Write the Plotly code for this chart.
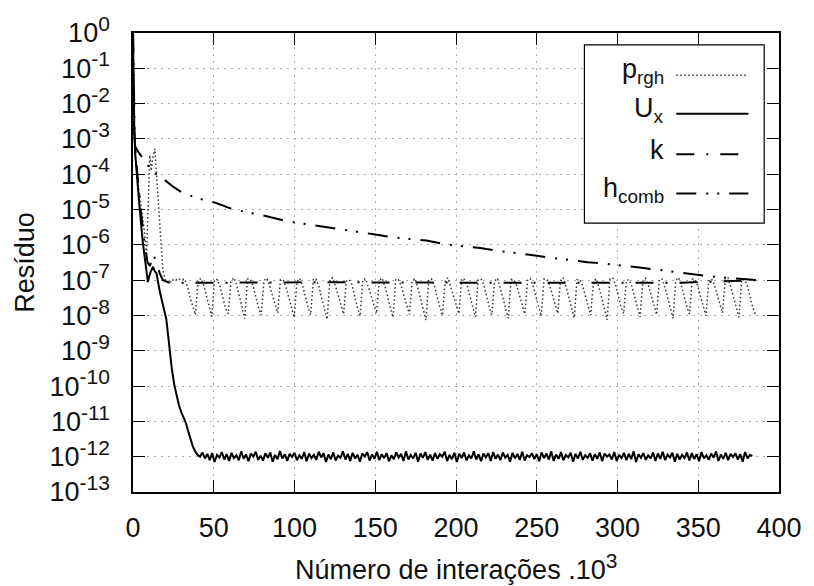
import numpy as np
import plotly.graph_objects as go

# ---------------- data (x in 10^3 iterations, y stored as log10 of residual) -------------
# U_x : initial decay
ux_x_start = [0, 0.3, 0.8, 1.5, 2.5, 4, 6, 8, 9.2, 10, 11, 12.4, 13.5, 14.5, 15.5, 16.5,
              18, 19.5, 20.6, 21.6, 22.6, 24, 25.7, 27, 28.5, 30, 31.5, 32.8, 34, 35.5,
              37, 38.5, 40]
ux_log_start = [0, -1.5, -2.7, -3.5, -4.1, -4.9, -5.9, -6.7, -7.05, -6.9, -6.75, -6.62, -6.75,
                -6.8, -7.1, -7.3, -7.6, -7.9, -8.1, -8.5, -9.0, -9.5, -10.0, -10.3, -10.55,
                -10.75, -10.92, -11.05, -11.25, -11.5, -11.7, -11.85, -11.95]
# U_x : noise floor, sampled every 1.5 (x10^3) from 41.5
ux_floor_x0 = 41.5
ux_floor_dx = 1.5
ux_log_floor = [
    -12.00, -11.88, -12.05, -11.92, -12.10, -11.90, -12.15, -11.95, -12.02, -11.87,
    -12.08, -11.93, -12.12, -11.89, -12.04, -11.96, -12.10, -11.85, -12.06, -11.94,
    -12.13, -11.91, -12.00, -11.86, -12.09, -11.97, -12.11, -11.90, -12.03, -11.88,
    -12.14, -11.95, -12.07, -11.84, -12.05, -11.93, -12.12, -11.92, -12.01, -11.89,
    -12.10, -11.96, -12.06, -11.87, -12.13, -11.91, -12.04, -11.95, -12.09, -11.86,
    -12.02, -11.90, -12.15, -11.94, -12.07, -11.88, -12.11, -11.97, -12.03, -11.85,
    -12.08, -11.92, -12.12, -11.89, -12.05, -11.95, -12.14, -11.91, -12.00, -11.87,
    -12.11, -11.94, -12.06, -11.86, -12.10, -11.93, -12.04, -11.90, -12.13, -11.96,
    -12.07, -11.88, -12.02, -11.92, -12.12, -11.85, -12.08, -11.95, -12.05, -11.89,
    -12.14, -11.91, -12.03, -11.87, -12.09, -11.94, -12.11, -11.90, -12.06, -11.93,
    -12.00, -11.86, -12.12, -11.95, -12.07, -11.89, -12.15, -11.92, -12.04, -11.88,
    -12.10, -11.96, -12.05, -11.85, -12.08, -11.93, -12.13, -11.91, -12.02, -11.90,
    -12.12, -11.87, -12.06, -11.94, -12.10, -11.88, -12.03, -11.95, -12.14, -11.89,
    -12.05, -11.92, -12.09, -11.86, -12.11, -11.96, -12.01, -11.90, -12.07, -11.93,
    -12.13, -11.88, -12.04, -11.91, -12.08, -11.85, -12.12, -11.94, -12.06, -11.87,
    -12.10, -11.95, -12.02, -11.89, -12.14, -11.92, -12.05, -11.86, -12.09, -11.96,
    -12.03, -11.90, -12.11, -11.93, -12.06, -11.88, -12.13, -11.91, -12.00, -11.94,
    -12.08, -11.87, -12.12, -11.95, -12.04, -11.89, -12.10, -11.92, -12.07, -11.85,
    -12.15, -11.93, -12.03, -11.90, -12.09, -11.96, -12.05, -11.88, -12.12, -11.91,
    -12.06, -11.86, -12.10, -11.94, -12.02, -11.89, -12.14, -11.92, -12.08, -11.95,
    -12.04, -11.88, -12.11, -11.90, -12.07, -11.93, -12.13, -11.87, -12.05, -11.96,
    -12.09, -11.91, -12.03, -11.85, -12.12, -11.94, -12.06, -11.89, -12.10, -11.92,
    -12.01, -11.90, -12.08, -11.93, -12.14, -11.87, -12.05, -11.95, -11.98,
]

# p_rgh : initial transient
p_x_start = [0, 0.5, 1.5, 3, 5, 7, 8.4, 9.5, 10.4, 11.3, 12, 13.5, 14.5, 15.5, 16.5, 17.5,
             18.5, 20, 22.6, 24, 26, 28, 30]
p_log_start = [0, -2.8, -3.5, -4.2, -4.9, -5.6, -6.3, -5.0, -3.46, -3.9, -3.6, -3.28, -4.0,
               -4.8, -5.5, -6.2, -6.72, -7.0, -7.1, -6.98, -7.02, -6.95, -7.0]
# p_rgh : oscillating part, sampled every 1.7 (x10^3) from 31.8
p_osc_x0 = 31.8
p_osc_dx = 1.7
p_log_osc = [
    -6.96, -7.15, -7.46, -7.76, -7.98, -7.01,
    -6.95, -7.13, -7.42, -7.72, -8.03, -6.98,
    -6.98, -7.18, -7.48, -7.79, -7.95, -7.03,
    -6.93, -7.12, -7.44, -7.74, -8.09, -6.97,
    -6.97, -7.16, -7.47, -7.77, -7.99, -7.02,
    -6.94, -7.14, -7.41, -7.71, -7.93, -6.99,
    -6.99, -7.19, -7.49, -7.80, -8.06, -7.04,
    -6.95, -7.13, -7.45, -7.75, -7.98, -6.96,
    -6.97, -7.17, -7.50, -7.81, -8.11, -7.00,
    -6.93, -7.15, -7.43, -7.73, -7.96, -7.03,
    -6.98, -7.12, -7.46, -7.76, -8.02, -6.98,
    -6.96, -7.18, -7.42, -7.70, -7.94, -7.01,
    -6.94, -7.14, -7.48, -7.78, -8.05, -6.97,
    -6.99, -7.16, -7.44, -7.74, -7.97, -7.02,
    -6.95, -7.20, -7.50, -7.82, -8.13, -6.99,
    -6.97, -7.13, -7.45, -7.75, -8.00, -7.04,
    -6.93, -7.17, -7.41, -7.71, -7.95, -6.96,
    -6.98, -7.15, -7.47, -7.79, -8.04, -7.00,
    -6.96, -7.12, -7.44, -7.74, -7.98, -7.03,
    -6.94, -7.19, -7.49, -7.80, -8.08, -6.98,
    -6.99, -7.14, -7.43, -7.73, -7.96, -7.01,
    -6.95, -7.16, -7.46, -7.77, -8.02, -6.97,
    -6.97, -7.13, -7.42, -7.70, -7.94, -7.02,
    -6.93, -7.18, -7.48, -7.78, -8.07, -6.99,
    -6.98, -7.15, -7.45, -7.75, -7.99, -7.04,
    -6.96, -7.20, -7.51, -7.83, -8.12, -6.96,
    -6.94, -7.12, -7.44, -7.74, -7.95, -7.00,
    -6.99, -7.17, -7.47, -7.78, -8.04, -7.03,
    -6.95, -7.14, -7.43, -7.72, -7.98, -6.98,
    -6.97, -7.19, -7.49, -7.80, -8.08, -7.01,
    -6.93, -7.13, -7.45, -7.75, -7.96, -6.97,
    -6.98, -7.16, -7.46, -7.76, -8.01, -7.02,
    -6.96, -7.12, -7.41, -7.70, -7.93, -6.99,
    -6.94, -7.18, -7.48, -7.79, -8.05, -7.00,
    -6.97, -7.15, -7.45, -7.76, -7.97,
]

# k : flat near 1e-7 (dash-dot)
k_x = [0, 0.5, 1.5, 3, 5, 7, 9, 10.5, 12.4, 14.5, 16.5, 18.5, 22.6, 60, 120, 200, 280, 340, 386]
k_log = [0, -2.5, -3.4, -4.2, -5.1, -5.9, -6.5, -6.6, -6.26, -6.49, -6.8, -7.0, -7.07, -7.07,
         -7.06, -7.07, -7.06, -7.07, -7.0]

# h_comb : slowly decreasing (dash-dot-dot)
h_x = [0, 1.2, 3, 6.3, 10, 14, 19.6, 25, 30.8, 40, 51, 62.4, 82.8, 95, 109, 128.6, 149, 161,
       181.7, 194, 215, 227.5, 249, 261, 281.5, 293.8, 315, 327.4, 347.8, 361, 386]
h_log = [0, -3.2, -3.35, -3.56, -3.8, -3.98, -4.16, -4.36, -4.53, -4.68, -4.81, -5.0, -5.19,
         -5.33, -5.42, -5.56, -5.70, -5.79, -5.88, -5.99, -6.09, -6.18, -6.30, -6.38, -6.49,
         -6.54, -6.65, -6.72, -6.82, -6.91, -7.0]

x_ticks = [0, 50, 100, 150, 200, 250, 300, 350, 400]
y_exponents = [0, -1, -2, -3, -4, -5, -6, -7, -8, -9, -10, -11, -12, -13]
legend_labels = ["p<sub>rgh</sub>", "U<sub>x</sub>", "k", "h<sub>comb</sub>"]

# ---------------- assemble ----------------
ux_x = list(ux_x_start) + list(ux_floor_x0 + ux_floor_dx * np.arange(len(ux_log_floor)))
ux_y = 10.0 ** np.array(list(ux_log_start) + list(ux_log_floor))
p_x = list(p_x_start) + list(p_osc_x0 + p_osc_dx * np.arange(len(p_log_osc)))
p_y = 10.0 ** np.array(list(p_log_start) + list(p_log_osc))
k_y = 10.0 ** np.array(k_log)
h_y = 10.0 ** np.array(h_log)

FONT = "Liberation Sans, Arial, sans-serif"
FS = 27
SUP = 21
TXT = "#111111"
BLACK = "#000000"


def sup(s):
    return '<sup><span style="font-size:%dpx">%s</span></sup>' % (SUP, s)


styles = {
    "p": dict(color="#333333", width=1.5, dash="1.5px,2.5px"),
    "ux": dict(color=BLACK, width=2, dash="solid"),
    "k": dict(color=BLACK, width=2, dash="18px,12px,2px,12px"),
    "h": dict(color=BLACK, width=2, dash="20px,10px,2px,9px,2px,10px"),
}

fig = go.Figure()
fig.add_trace(go.Scatter(x=p_x, y=p_y, mode="lines", line=styles["p"], name="p_rgh", showlegend=False))
fig.add_trace(go.Scatter(x=k_x, y=k_y, mode="lines", line=styles["k"], name="k", showlegend=False))
fig.add_trace(go.Scatter(x=h_x, y=h_y, mode="lines", line=styles["h"], name="h_comb", showlegend=False))
fig.add_trace(go.Scatter(x=ux_x, y=ux_y, mode="lines", line=styles["ux"], name="U_x", showlegend=False))

W, H = 814, 586
L, R, T, B = 133, 27, 26, 94
PW, PH = W - L - R, H - T - B


def px(xp):
    return (xp - L) / PW


def py(yp):
    return (T + PH - yp) / PH


fig.update_layout(
    width=W, height=H,
    margin=dict(l=L, r=R, t=T, b=B, pad=0),
    plot_bgcolor="white", paper_bgcolor="white",
    font=dict(family=FONT, size=FS, color=TXT),
    showlegend=False,
)

fig.update_xaxes(
    range=[0, 400], tickmode="array", tickvals=x_ticks, ticktext=[str(v) for v in x_ticks],
    showline=True, linecolor=BLACK, linewidth=1.5, mirror="ticks",
    ticks="inside", ticklen=12, tickwidth=1.2, tickcolor=BLACK,
    showgrid=True, gridcolor="#aaaaaa", griddash="2px,5px", gridwidth=1,
    zeroline=False, ticklabelstandoff=11,
    tickfont=dict(family=FONT, size=FS, color=TXT),
)
fig.update_yaxes(
    type="log", range=[-13, 0], tickmode="array",
    tickvals=[10.0 ** e for e in y_exponents],
    ticktext=["10" + sup(e) for e in y_exponents],
    showline=True, linecolor=BLACK, linewidth=1.5, mirror="ticks",
    ticks="inside", ticklen=12, tickwidth=1.2, tickcolor=BLACK,
    showgrid=True, gridcolor="#aaaaaa", griddash="2px,5px", gridwidth=1,
    zeroline=False, ticklabelstandoff=16,
    tickfont=dict(family=FONT, size=FS, color=TXT),
)

annotations = [
    dict(text="Resíduo", x=px(23), y=0.5, xref="paper", yref="paper", textangle=-90,
         showarrow=False, xanchor="center", yanchor="middle", font=dict(family=FONT, size=FS)),
    dict(text="Número de interações .10" + sup("3"), x=0.5, y=py(568), xref="paper", yref="paper",
         showarrow=False, xanchor="center", yanchor="middle", font=dict(family=FONT, size=FS)),
]

shapes = [
    dict(type="rect", xref="paper", yref="paper", x0=px(590), x1=px(772), y0=py(219), y1=py(38),
         line=dict(color=BLACK, width=1.2), fillcolor="white", layer="above"),
]
row_y = [69, 108, 149, 189]
row_style = ["p", "ux", "k", "h"]
for lab, ry, st in zip(legend_labels, row_y, row_style):
    shapes.append(dict(type="line", xref="paper", yref="paper", x0=px(683), x1=px(756),
                       y0=py(ry), y1=py(ry), line=styles[st], layer="above"))
    annotations.append(dict(text=lab, x=px(673), y=py(ry - 4), xref="paper", yref="paper",
                            showarrow=False, xanchor="right", yanchor="middle",
                            font=dict(family=FONT, size=FS)))

fig.update_layout(shapes=shapes, annotations=annotations)
fig.write_html("out.html")
